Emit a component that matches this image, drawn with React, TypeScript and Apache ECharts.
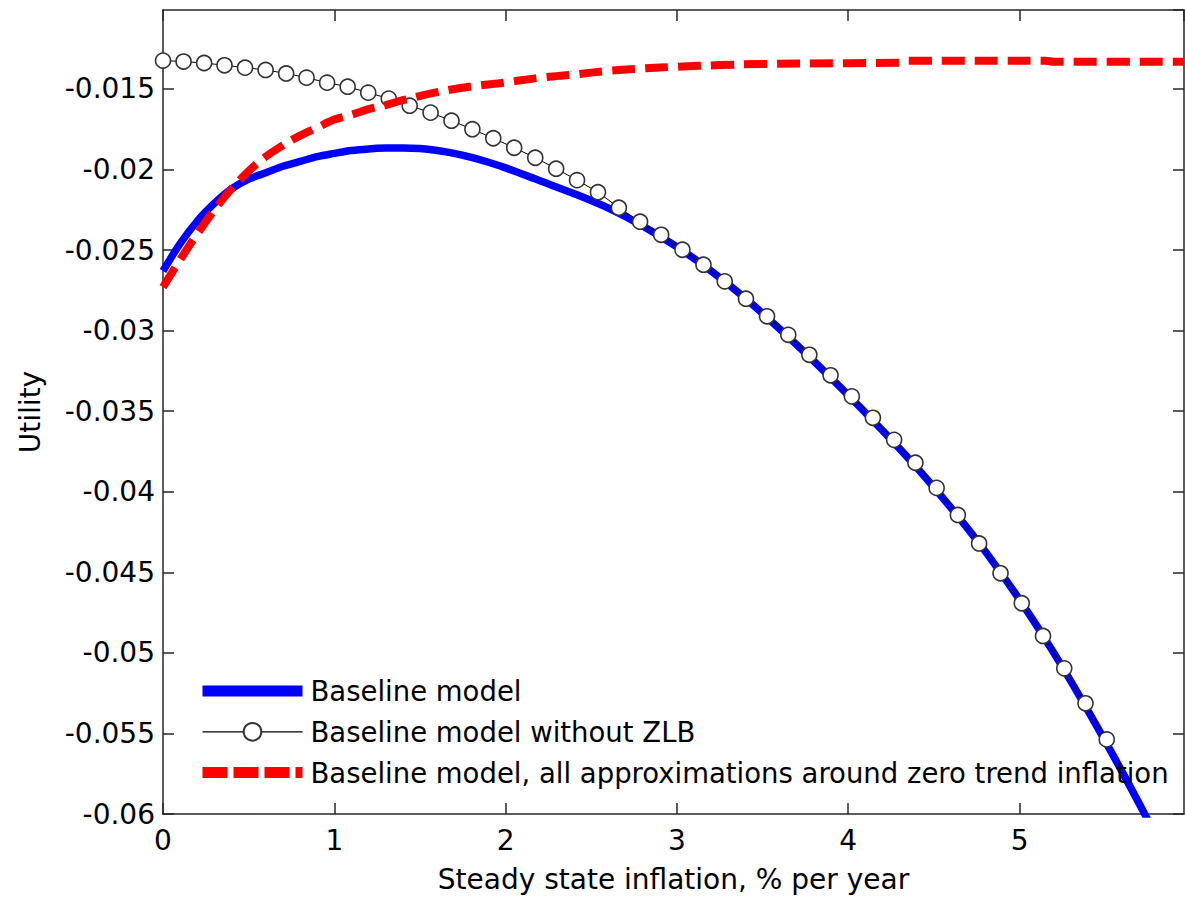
import React, { useEffect, useRef } from "react";
import * as echarts from "echarts";

// ---- Data ----
const seriesNames = [
  "Baseline model",
  "Baseline model without ZLB",
  "Baseline model, all approximations around zero trend inflation",
];

// Baseline model (blue solid)
const baselineX = [0, 0.1, 0.2, 0.3, 0.4, 0.5, 0.6, 0.7, 0.8, 0.9, 1.0, 1.1, 1.2, 1.3, 1.4, 1.5, 1.6, 1.7, 1.8, 1.9, 2.0, 2.2, 2.4, 2.6, 2.8, 3.0, 3.2, 3.4, 3.6, 3.8, 4.0, 4.2, 4.4, 4.6, 4.8, 5.0, 5.2, 5.4, 5.6, 5.75];
const baselineY = [-0.0263, -0.0246, -0.0232, -0.0221, -0.0212, -0.0206, -0.0202, -0.0198, -0.0195, -0.0192, -0.019, -0.01882, -0.01872, -0.01867, -0.01866, -0.0187, -0.01882, -0.019, -0.01925, -0.01955, -0.0199, -0.0207, -0.0215, -0.0224, -0.0235, -0.0248, -0.0263, -0.028, -0.0299, -0.0319, -0.034, -0.0362, -0.0385, -0.041, -0.0437, -0.0467, -0.05, -0.0536, -0.0574, -0.0604];

// Baseline model without ZLB (circles)
const noZlbX = [0, 0.12, 0.24, 0.359, 0.479, 0.599, 0.719, 0.838, 0.958, 1.078, 1.198, 1.318, 1.44, 1.562, 1.684, 1.806, 1.928, 2.05, 2.173, 2.295, 2.417, 2.539, 2.661, 2.785, 2.908, 3.032, 3.155, 3.279, 3.403, 3.526, 3.65, 3.773, 3.897, 4.021, 4.144, 4.268, 4.392, 4.516, 4.64, 4.764, 4.889, 5.013, 5.137, 5.261, 5.385, 5.509];
const noZlbY = [-0.01324, -0.0133, -0.01339, -0.01353, -0.01368, -0.01382, -0.01404, -0.0143, -0.01461, -0.01486, -0.01523, -0.0156, -0.01604, -0.01647, -0.01697, -0.0175, -0.01806, -0.01865, -0.01927, -0.01995, -0.02066, -0.02141, -0.02237, -0.02324, -0.02405, -0.02498, -0.02591, -0.02694, -0.02802, -0.02911, -0.03026, -0.0315, -0.03277, -0.03408, -0.03541, -0.03678, -0.0382, -0.03976, -0.04144, -0.04321, -0.04506, -0.04692, -0.04895, -0.05096, -0.05313, -0.05537];

// Baseline model, approximations around zero trend inflation (red dashed)
const zeroTrendX = [0, 0.1, 0.2, 0.3, 0.4, 0.5, 0.6, 0.7, 0.8, 0.9, 1.0, 1.1, 1.2, 1.3, 1.4, 1.6, 1.8, 2.0, 2.2, 2.4, 2.6, 2.8, 3.0, 3.25, 3.5, 4.0, 4.3, 4.35, 5.15, 5.2, 5.96];
const zeroTrendY = [-0.0273, -0.0256, -0.024, -0.0225, -0.0212, -0.0201, -0.0192, -0.0185, -0.0179, -0.0174, -0.0169, -0.0166, -0.01625, -0.016, -0.0157, -0.0152, -0.01485, -0.0146, -0.0143, -0.0141, -0.01388, -0.01373, -0.01362, -0.01352, -0.01345, -0.0134, -0.01338, -0.01325, -0.01325, -0.01331, -0.01331];

const xMin = 0;
const xMax = 5.96;
const xInterval = 1;
const yMin = -0.06;
const yMax = -0.0101;
const yInterval = 0.005;

const FONT = "DejaVu Sans";
const AXIS_COLOR = "#262626";

function pairs(xs: number[], ys: number[]) {
  return xs.map((x, i) => [x, ys[i]]);
}

export default function App() {
  const ref = useRef<HTMLDivElement>(null);

  useEffect(() => {
    document.body.style.margin = "0";
    const chart = echarts.init(ref.current as HTMLDivElement, null, { renderer: "svg" });

    const axisLine = { show: true, onZero: false, lineStyle: { color: AXIS_COLOR, width: 1.5 } };
    const axisTick = { show: true, inside: true, length: 11, lineStyle: { color: AXIS_COLOR, width: 1.5 } };
    const labelStyle = { fontSize: 28, fontFamily: FONT, color: "#000" };

    const option: any = {
      animation: false,
      backgroundColor: "#fff",
      grid: { left: 163, right: 1, top: 10, bottom: 87, containLabel: false, outerBoundsMode: "none" },
      xAxis: [
        {
          type: "value",
          position: "bottom",
          min: xMin,
          max: xMax,
          interval: xInterval,
          axisLine,
          axisTick,
          splitLine: { show: false },
          axisLabel: { ...labelStyle, margin: 12, showMaxLabel: false, formatter: (v: number) => String(Math.round(v)) },
          name: "Steady state inflation, % per year",
          nameLocation: "middle",
          nameGap: 51,
          nameTextStyle: labelStyle,
        },
        {
          type: "value",
          position: "top",
          min: xMin,
          max: xMax,
          interval: xInterval,
          axisLine,
          axisTick,
          splitLine: { show: false },
          axisLabel: { show: false },
        },
      ],
      yAxis: [
        {
          type: "value",
          position: "left",
          min: yMin,
          max: yMax,
          interval: yInterval,
          axisLine,
          axisTick,
          splitLine: { show: false },
          axisLabel: {
            ...labelStyle,
            margin: 8,
            showMaxLabel: false,
            formatter: (v: number) => String(Math.round(v * 1000) / 1000),
          },
          name: "Utility",
          nameLocation: "middle",
          nameGap: 119,
          nameRotate: 90,
          nameTextStyle: labelStyle,
        },
        {
          type: "value",
          position: "right",
          min: yMin,
          max: yMax,
          interval: yInterval,
          axisLine,
          axisTick,
          splitLine: { show: false },
          axisLabel: { show: false },
        },
      ],
      legend: {
        orient: "vertical",
        left: 192,
        top: 672,
        padding: 5,
        itemWidth: 100,
        itemHeight: 22,
        itemGap: 12.8,
        selectedMode: false,
        textStyle: { fontSize: 27.5, fontFamily: FONT, color: "#000", padding: [0, 0, 0, 3] },
        data: [
          { name: seriesNames[0], itemStyle: { opacity: 0 }, lineStyle: { width: 11, color: "#0000ff" } },
          { name: seriesNames[1], lineStyle: { width: 1.3, color: "#000" } },
          { name: seriesNames[2], itemStyle: { opacity: 0 }, lineStyle: { width: 11, color: "#ff0000", type: [25, 6] } },
        ],
      },
      series: [
        {
          name: seriesNames[0],
          type: "line",
          xAxisIndex: 0,
          yAxisIndex: 0,
          data: pairs(baselineX, baselineY),
          symbol: "none",
          smooth: 0.35,
          color: "#0000ff",
          lineStyle: { color: "#0000ff", width: 7.5 },
          z: 2,
        },
        {
          name: seriesNames[1],
          type: "line",
          xAxisIndex: 0,
          yAxisIndex: 0,
          data: pairs(noZlbX, noZlbY),
          symbol: "circle",
          symbolSize: 15,
          showAllSymbol: true,
          color: "#000",
          lineStyle: { color: "#000", width: 1 },
          itemStyle: { color: "#fff", borderColor: "#333", borderWidth: 1.6 },
          z: 3,
        },
        {
          name: seriesNames[2],
          type: "line",
          xAxisIndex: 0,
          yAxisIndex: 0,
          data: pairs(zeroTrendX, zeroTrendY),
          symbol: "none",
          smooth: 0.35,
          color: "#ff0000",
          lineStyle: { color: "#ff0000", width: 8, type: [23, 10], cap: "butt" },
          z: 4,
        },
      ],
    };

    chart.setOption(option);
    return () => chart.dispose();
  }, []);

  return <div ref={ref} style={{ width: 1185, height: 901 }} />;
}
